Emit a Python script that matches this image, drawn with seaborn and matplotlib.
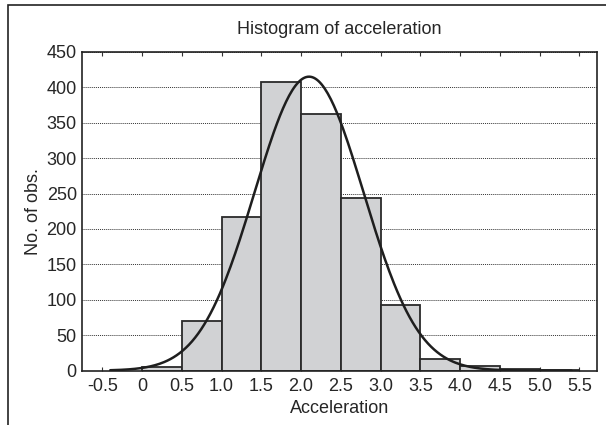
import matplotlib
matplotlib.use("Agg")
import matplotlib.pyplot as plt
import numpy as np
import pandas as pd
import seaborn as sns

# Histogram bins (edges) and counts
bin_edges = [0.0, 0.5, 1.0, 1.5, 2.0, 2.5, 3.0, 3.5, 4.0, 4.5, 5.0, 5.5]
counts = [5, 70, 217, 407, 362, 244, 93, 17, 7, 2, 1]

# Fitted normal curve parameters
fit_mean = 2.1
fit_sd = 0.685
curve_range = (-0.4, 5.4)

x_ticks = [-0.5, 0, 0.5, 1.0, 1.5, 2.0, 2.5, 3.0, 3.5, 4.0, 4.5, 5.0, 5.5]
x_tick_labels = ["-0.5", "0", "0.5", "1.0", "1.5", "2.0", "2.5", "3.0",
                 "3.5", "4.0", "4.5", "5.0", "5.5"]
y_ticks = [0, 50, 100, 150, 200, 250, 300, 350, 400, 450]

sns.set_style("white")
plt.rcParams["font.family"] = ["Liberation Sans", "DejaVu Sans"]

centers = [(a + b) / 2 for a, b in zip(bin_edges[:-1], bin_edges[1:])]
df = pd.DataFrame({"acceleration": centers, "count": counts})

fig = plt.figure(figsize=(6.06, 4.25), dpi=100)
ax = fig.add_axes([0.136, 0.128, 0.849, 0.750])

sns.histplot(data=df, x="acceleration", weights="count", bins=bin_edges,
             color="#d1d2d4", edgecolor="#2a2a2a", linewidth=1.3, alpha=1,
             ax=ax, zorder=2)

# normal fit scaled to counts
n_total = sum(counts)
bw = bin_edges[1] - bin_edges[0]
xs = np.linspace(curve_range[0], curve_range[1], 300)
ys = n_total * bw / (fit_sd * np.sqrt(2 * np.pi)) * np.exp(-0.5 * ((xs - fit_mean) / fit_sd) ** 2)
sns.lineplot(x=xs, y=ys, color="#1e1e1e", linewidth=1.8, ax=ax, zorder=3)

ax.set_xlim(-0.75, 5.72)
ax.set_ylim(0, 450)
ax.set_xticks(x_ticks)
ax.set_xticklabels(x_tick_labels)
ax.set_yticks(y_ticks)
ax.tick_params(axis="x", direction="in", length=3, top=True, bottom=True,
               labelsize=13, color="#333333", pad=5)
ax.tick_params(axis="y", length=0, labelsize=13, pad=4)
ax.yaxis.grid(True, linestyle=(0, (1, 1)), color="#333333", linewidth=0.7, zorder=0)
ax.xaxis.grid(False)
ax.set_axisbelow(True)
for s in ax.spines.values():
    s.set_color("#222222")
    s.set_linewidth(1.2)

ax.set_title("Histogram of acceleration", fontsize=13, pad=13)
ax.set_xlabel("Acceleration", fontsize=13, labelpad=4)
ax.set_ylabel("No. of obs.", fontsize=13, labelpad=3)

# outer frame
fig.patches.append(plt.Rectangle((8 / 606, -0.1), 1.2, 1.1 - 5 / 425,
                                 transform=fig.transFigure, fill=False,
                                 edgecolor="#222222", linewidth=1.2))

fig.savefig("out.png", dpi=100)
